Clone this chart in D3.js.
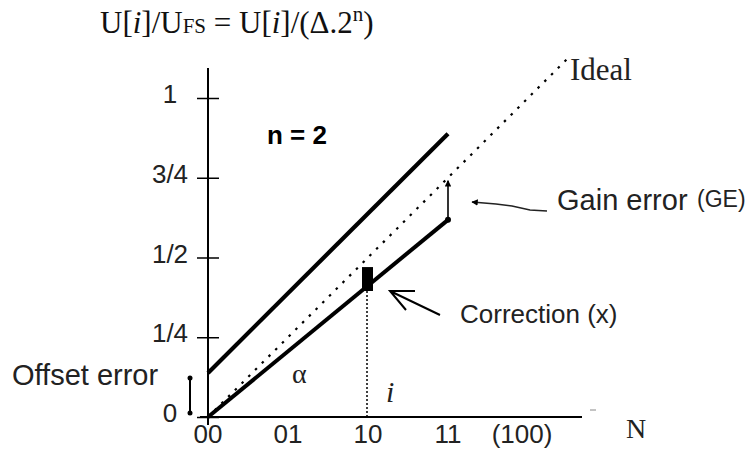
<!DOCTYPE html>
<html>
<head>
<meta charset="utf-8">
<script src="https://cdn.jsdelivr.net/npm/d3@7/dist/d3.min.js"></script>
<style>
  html, body { margin: 0; padding: 0; background: #fff; }
  svg { display: block; }
  .sans { font-family: "Liberation Sans", Arial, sans-serif; }
  .serif { font-family: "Liberation Serif", "Times New Roman", serif; }
</style>
</head>
<body>
<svg id="chart" width="754" height="453"></svg>
<script>
// ADC transfer characteristic, n = 2 bits
const nBits = 2;
const codeLabels = ["00", "01", "10", "11", "(100)"];
const codePositions = [0, 1, 2, 3, 4];
const yTickValues = [0, 0.25, 0.5, 0.75, 1];
const yTickLabels = ["0", "1/4", "1/2", "3/4", "1"];

// normalised output U[i]/U_FS against code N
const idealCodes = [0, 4.5];
const idealValues = [0, 1.125];
const offsetCodes = [0, 3];
const offsetValues = [0.138, 0.888];
const gainCodes = [0, 3];
const gainValues = [0, 0.618];

// correction marker on code "10"
const correctionCode = 2;
const correctionTop = 0.47;
const correctionBase = 0.395;

// gain error measured at the last code
const gainErrorCode = 3;
const gainErrorIdeal = 0.75;
const gainErrorActual = 0.618;

// offset error shown at code 0
const offsetErrorValue = 0.138;

const svg = d3.select("#chart");
svg.append("rect").attr("width", 754).attr("height", 453).attr("fill", "#fff");

const x = d3.scaleLinear().domain([0, 4]).range([208, 528]);
const y = d3.scaleLinear().domain([0, 1]).range([417, 98]);

const defs = svg.append("defs");
defs.append("marker").attr("id", "headSmall")
  .attr("viewBox", "0 0 10 10").attr("refX", 9).attr("refY", 5)
  .attr("markerWidth", 4).attr("markerHeight", 4).attr("orient", "auto-start-reverse")
  .append("path").attr("d", "M0,0 L10,5 L0,10 z").attr("fill", "#000");

// axes
const g = svg.append("g");
g.append("line")
  .attr("x1", x(0)).attr("x2", x(0))
  .attr("y1", y(1.094)).attr("y2", y(-0.025))
  .attr("stroke", "#000").attr("stroke-width", 2);
g.append("line")
  .attr("x1", x(-0.1)).attr("x2", x(4.675))
  .attr("y1", y(0)).attr("y2", y(0))
  .attr("stroke", "#000").attr("stroke-width", 2);

// y ticks crossing the axis
const yAxis = d3.axisLeft(y).tickValues(yTickValues).tickFormat("").tickSizeOuter(0);
const ya = g.append("g").attr("transform", `translate(${x(0)},0)`).call(yAxis);
ya.select(".domain").remove();
ya.selectAll(".tick line").attr("x1", -11).attr("x2", 11)
  .attr("stroke", "#000").attr("stroke-width", 1.5);

g.selectAll("text.ytick").data(yTickValues).join("text")
  .attr("class", "sans")
  .attr("x", 170).attr("y", d => y(d) + 5)
  .attr("text-anchor", "middle")
  .attr("font-size", 26).attr("fill", "#222")
  .text((d, i) => yTickLabels[i]);

g.selectAll("text.xtick").data(codePositions).join("text")
  .attr("class", "sans")
  .attr("x", (d, i) => x(d) - (i === 4 ? 6 : 0)).attr("y", 443)
  .attr("text-anchor", "middle")
  .attr("font-size", 26).attr("fill", "#222")
  .text((d, i) => codeLabels[i]);

g.append("line").attr("x1", 590).attr("x2", 596).attr("y1", 410).attr("y2", 410)
  .attr("stroke", "#888").attr("stroke-width", 1);

const line = d3.line().x(d => x(d[0])).y(d => y(d[1]));

// ideal characteristic (dotted)
g.append("path")
  .datum(idealCodes.map((c, i) => [c, idealValues[i]]))
  .attr("d", line).attr("fill", "none")
  .attr("stroke", "#000").attr("stroke-width", 2.2)
  .attr("stroke-dasharray", "2.5,7");

// characteristic with offset error
g.append("path")
  .datum(offsetCodes.map((c, i) => [c, offsetValues[i]]))
  .attr("d", line).attr("fill", "none")
  .attr("stroke", "#000").attr("stroke-width", 4.2);

// characteristic with gain error
g.append("path")
  .datum(gainCodes.map((c, i) => [c, gainValues[i]]))
  .attr("d", line).attr("fill", "none")
  .attr("stroke", "#000").attr("stroke-width", 4);

// gain error span
g.append("line")
  .attr("x1", x(gainErrorCode)).attr("x2", x(gainErrorCode))
  .attr("y1", y(gainErrorActual)).attr("y2", y(gainErrorIdeal) + 3)
  .attr("stroke", "#000").attr("stroke-width", 1.6)
  .attr("marker-end", "url(#headSmall)");
g.append("circle").attr("cx", x(gainErrorCode)).attr("cy", y(gainErrorActual))
  .attr("r", 3).attr("fill", "#000");

// gain error leader
g.append("polyline")
  .attr("points", "547,211 530,210 512,206 496,204 472,202")
  .attr("fill", "none").attr("stroke", "#222").attr("stroke-width", 1.6)
  .attr("marker-end", "url(#headSmall)");

// offset error span
g.append("line")
  .attr("x1", 190).attr("x2", 190)
  .attr("y1", y(offsetErrorValue) + 5).attr("y2", y(0) - 4)
  .attr("stroke", "#000").attr("stroke-width", 2);
g.selectAll("circle.oe").data([offsetErrorValue, 0]).join("circle")
  .attr("cx", 190).attr("cy", (d, i) => y(d) + (i === 0 ? 5 : -4))
  .attr("r", 2.5).attr("fill", "#000");

// correction marker and code line
g.append("line")
  .attr("x1", x(correctionCode) - 1).attr("x2", x(correctionCode) - 1)
  .attr("y1", y(correctionBase)).attr("y2", y(0))
  .attr("stroke", "#000").attr("stroke-width", 1.5)
  .attr("stroke-dasharray", "2,2");
g.append("rect")
  .attr("x", x(correctionCode) - 6).attr("width", 11)
  .attr("y", y(correctionTop)).attr("height", y(correctionBase) - y(correctionTop))
  .attr("fill", "#000");

// correction arrow
g.append("path")
  .attr("d", "M440,315 L390,291 M415,291 L390,291 L406,310")
  .attr("fill", "none").attr("stroke", "#000").attr("stroke-width", 2);

// labels
const txt = (cls, xx, yy, size, s, extra) => {
  const t = svg.append("text").attr("class", cls).attr("x", xx).attr("y", yy)
    .attr("font-size", size).attr("fill", "#222").text(s);
  if (extra) extra(t);
  return t;
};
txt("serif", 570, 80, 31, "Ideal");
txt("sans", 557, 210, 29, "Gain error");
txt("sans", 697, 207, 23, "(GE)");
txt("sans", 460, 323, 26, "Correction (x)");
txt("sans", 12, 385, 29, "Offset error");
txt("sans", 267, 144, 26, "n = " + nBits, t => t.attr("font-weight", "bold").attr("fill", "#000"));
txt("serif", 292, 383, 28, "α");
txt("serif", 386, 402, 30, "i", t => t.attr("font-style", "italic"));
txt("serif", 626, 438, 28, "N");

// title: U[i]/U_FS = U[i]/(Δ.2^n)
const title = svg.append("text").attr("class", "serif")
  .attr("x", 100).attr("y", 33).attr("font-size", 31).attr("fill", "#111");
title.append("tspan").text("U[");
title.append("tspan").attr("font-style", "italic").text("i");
title.append("tspan").text("]/U");
title.append("tspan").attr("font-size", 21).text("FS");
title.append("tspan").text(" = U[");
title.append("tspan").attr("font-style", "italic").text("i");
title.append("tspan").text("]/(Δ.2");
title.append("tspan").attr("font-size", 21).attr("dy", -12).text("n");
title.append("tspan").attr("dy", 12).text(")");
</script>
</body>
</html>
